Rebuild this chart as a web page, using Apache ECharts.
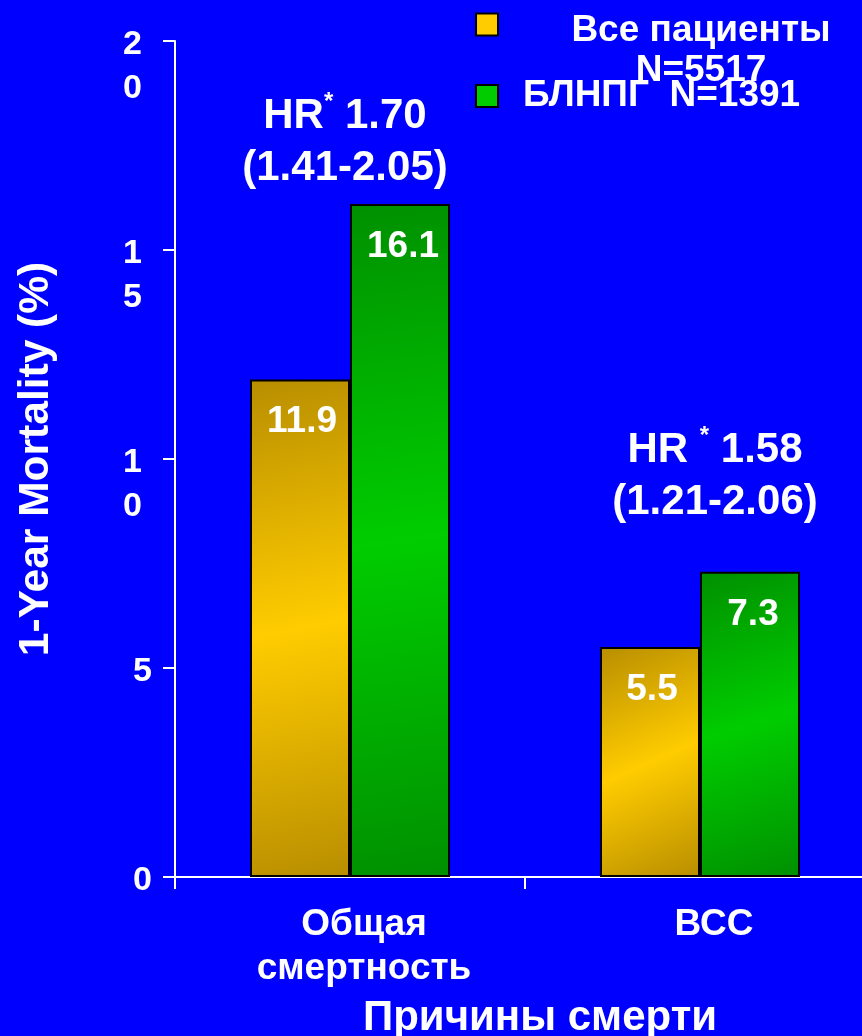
<!DOCTYPE html>
<html>
<head>
<meta charset="utf-8">
<script src="https://cdn.jsdelivr.net/npm/echarts@6/dist/echarts.min.js"></script>
<style>
html,body{margin:0;padding:0;background:#0000ff;}
#main{width:862px;height:1036px;}
</style>
</head>
<body>
<div id="main"></div>
<script>
const categories = ['Общая\nсмертность', 'ВСС'];
const seriesNames = ['Все пациенты\nN=5517', 'БЛНПГ  N=1391'];
const allPatients = [11.9, 5.5];
const lbbbPatients = [16.1, 7.3];
const hrMain = [['HR', '*', ' 1.70'], ['HR ', '*', ' 1.58']];
const hrCI = ['(1.41-2.05)', '(1.21-2.06)'];
const yAxisTitle = '1-Year Mortality (%)';
const xAxisTitle = 'Причины смерти';

const FONT = '"Liberation Sans", Arial, sans-serif';
const chart = echarts.init(document.getElementById('main'));

function grad(dark, bright) {
  return new echarts.graphic.LinearGradient(0, 0, 1, 1, [
    { offset: 0, color: dark },
    { offset: 0.5, color: bright },
    { offset: 1, color: dark }
  ]);
}

const option = {
  backgroundColor: '#0000ff',
  animation: false,
  textStyle: { fontFamily: FONT },
  grid: { left: 175, top: 41, bottom: 159, right: -13, containLabel: false, outerBoundsMode: 'none' },
  legend: [
    {
      data: [{ name: seriesNames[0], itemStyle: { color: '#ffcc00', borderColor: '#000', borderWidth: 2 } }],
      left: 475, top: -34, padding: 0,
      itemWidth: 22, itemHeight: 22, icon: 'rect',
      selectedMode: false,
      formatter: function (name) {
        const p = name.split('\n');
        return '{e| }\n{c|' + p[0] + '}\n{c|' + p[1] + '}';
      },
      textStyle: {
        rich: {
          e: { width: 396, fontSize: 37, lineHeight: 53, fontFamily: FONT },
          c: { width: 396, align: 'center', fontSize: 37, fontWeight: 'bold', color: '#fff', lineHeight: 40, fontFamily: FONT }
        }
      }
    },
    {
      data: [{ name: seriesNames[1], itemStyle: { color: '#00cc00', borderColor: '#000', borderWidth: 2 } }],
      left: 475, top: 73, padding: 0,
      itemWidth: 22, itemHeight: 22, icon: 'rect',
      selectedMode: false,
      textStyle: { color: '#fff', fontSize: 37, fontWeight: 'bold', lineHeight: 40, padding: [6, 0, 0, 20], fontFamily: FONT }
    }
  ],
  xAxis: {
    type: 'category',
    data: categories,
    name: xAxisTitle,
    nameLocation: 'middle',
    nameGap: 120,
    nameTextStyle: { color: '#fff', fontSize: 42, fontWeight: 'bold', padding: [0, 0, 0, 30], fontFamily: FONT },
    axisLine: { lineStyle: { color: '#fff', width: 2 } },
    axisTick: { show: true, alignWithLabel: false, length: 12, lineStyle: { color: '#fff', width: 2 } },
    axisLabel: { color: '#fff', fontSize: 37, fontWeight: 'bold', lineHeight: 44, margin: 26, padding: [0, 0, 0, 28], fontFamily: FONT }
  },
  yAxis: {
    type: 'value',
    min: 0, max: 20, interval: 5,
    name: yAxisTitle,
    nameLocation: 'middle',
    nameRotate: 90,
    nameGap: 117,
    nameTextStyle: { color: '#fff', fontSize: 42.5, fontWeight: 'bold', fontFamily: FONT },
    axisLine: { show: true, lineStyle: { color: '#fff', width: 2 } },
    axisTick: { show: true, length: 12, lineStyle: { color: '#fff', width: 2 } },
    splitLine: { show: false },
    axisLabel: {
      margin: 23,
      align: 'right',
      padding: [8, 0, 0, 0],
      formatter: function (v) {
        const s = String(v);
        if (s.length > 1) return '{n| }\n{n|' + s.split('').join('}\n{n|') + '}';
        return '{s|' + s + '}';
      },
      rich: {
        n: { color: '#fff', fontSize: 34, fontWeight: 'bold', lineHeight: 44, padding: [0, 10, 0, 0], fontFamily: FONT },
        s: { color: '#fff', fontSize: 34, fontWeight: 'bold', lineHeight: 44, fontFamily: FONT }
      }
    }
  },
  series: [
    {
      name: seriesNames[0], type: 'bar', data: allPatients,
      barWidth: 100, barGap: '0%',
      itemStyle: { color: grad('#b88e00', '#ffcc00'), borderColor: '#000', borderWidth: 2 },
      label: { show: true, position: 'insideTop', distance: 22, offset: [2, 2], color: '#fff', fontSize: 37, fontWeight: 'bold', fontFamily: FONT },
      emphasis: { disabled: true }
    },
    {
      name: seriesNames[1], type: 'bar', data: lbbbPatients,
      barWidth: 100, barGap: '0%',
      itemStyle: { color: grad('#009000', '#00cc00'), borderColor: '#000', borderWidth: 2 },
      label: { show: true, position: 'insideTop', distance: 22, offset: [3, 2], color: '#fff', fontSize: 37, fontWeight: 'bold', fontFamily: FONT },
      emphasis: { disabled: true }
    }
  ]
};

chart.setOption(option);

const annY = [142, 476];
const annDx = [-5, 15];
const graphics = categories.map(function (c, i) {
  const x = chart.convertToPixel({ xAxisIndex: 0 }, i) + annDx[i];
  const m = hrMain[i];
  return {
    type: 'text',
    x: x, y: annY[i],
    style: {
      text: '{b|' + m[0] + '}{s|' + m[1] + '}{b|' + m[2] + '}\n{b|' + hrCI[i] + '}',
      align: 'center', verticalAlign: 'middle',
      fill: '#fff',
      rich: {
        b: { fontSize: 42, fontWeight: 'bold', fill: '#fff', lineHeight: 52, fontFamily: FONT },
        s: { fontSize: 24, fontWeight: 'bold', fill: '#fff', lineHeight: 52, verticalAlign: 'top', fontFamily: FONT }
      }
    }
  };
});
chart.setOption({ graphic: graphics });
</script>
</body>
</html>
